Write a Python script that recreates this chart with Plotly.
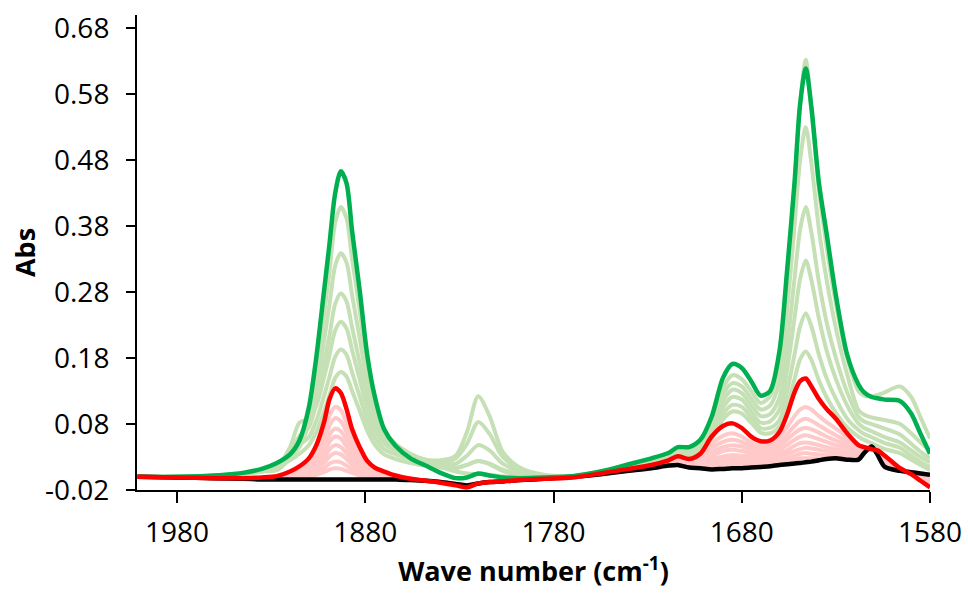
import plotly.graph_objects as go

# Wave numbers (cm-1), shared by all spectra (descending)
wavenumber = [2001, 1980, 1960, 1945, 1935, 1927,
              1920, 1915, 1910, 1906, 1902, 1899, 1896, 1893,
              1890, 1887, 1883, 1879, 1875, 1870, 1864,
              1856, 1848, 1840, 1832, 1826, 1820, 1814, 1807, 1798,
              1785, 1770, 1755, 1740, 1728, 1719, 1714, 1708, 1702,
              1696, 1690, 1685, 1680, 1675, 1670, 1665, 1660,
              1656, 1652, 1649, 1646, 1643, 1639, 1635, 1630,
              1624, 1618, 1615, 1611, 1608, 1604, 1596, 1590, 1585, 1580]

abs_black = [0.000, -0.001, -0.002, -0.003, -0.004, -0.004,
             -0.004, -0.004, -0.004, -0.004, -0.004, -0.004, -0.004, -0.004,
             -0.004, -0.004, -0.004, -0.004, -0.004, -0.004, -0.004,
             -0.005, -0.006, -0.008, -0.011, -0.013, -0.010, -0.008, -0.007, -0.005,
             -0.003, 0.000, 0.004, 0.009, 0.013, 0.017, 0.018, 0.014, 0.013,
             0.011, 0.012, 0.013, 0.013, 0.014, 0.015, 0.016, 0.018,
             0.019, 0.020, 0.021, 0.022, 0.023, 0.025, 0.027, 0.028,
             0.026, 0.026, 0.036, 0.046, 0.034, 0.015, 0.009, 0.007, 0.005, 0.003]

abs_red = [0.000, -0.001, -0.002, -0.002, -0.001, 0.001,
           0.008, 0.016, 0.028, 0.048, 0.082, 0.118, 0.134, 0.127,
           0.103, 0.072, 0.045, 0.024, 0.014, 0.008, 0.002,
           -0.003, -0.006, -0.009, -0.013, -0.016, -0.010, -0.008, -0.007, -0.005,
           -0.003, -0.001, 0.005, 0.012, 0.018, 0.025, 0.031, 0.027, 0.035,
           0.061, 0.077, 0.081, 0.074, 0.061, 0.054, 0.055, 0.068,
           0.094, 0.128, 0.145, 0.149, 0.137, 0.118, 0.103, 0.088,
           0.066, 0.048, 0.045, 0.042, 0.040, 0.032, 0.013, 0.004, -0.006, -0.016]

abs_green = [0.000, 0.000, 0.002, 0.006, 0.012, 0.021,
             0.034, 0.055, 0.105, 0.182, 0.280, 0.354, 0.430, 0.463,
             0.445, 0.372, 0.283, 0.185, 0.122, 0.072, 0.047,
             0.028, 0.017, 0.006, -0.002, -0.001, 0.005, 0.002, -0.001, -0.002,
             -0.001, 0.001, 0.008, 0.019, 0.028, 0.036, 0.045, 0.045, 0.056,
             0.091, 0.150, 0.171, 0.165, 0.145, 0.123, 0.130, 0.190,
             0.310, 0.445, 0.565, 0.619, 0.560, 0.445, 0.370, 0.275,
             0.185, 0.140, 0.128, 0.121, 0.119, 0.117, 0.115, 0.096, 0.065, 0.035]

# intermediate spectra (light green)
lg_1 = [0.000, 0.000, 0.002, 0.005, 0.010, 0.018,
        0.030, 0.048, 0.092, 0.160, 0.245, 0.312, 0.385, 0.409,
        0.392, 0.330, 0.252, 0.168, 0.112, 0.070, 0.050,
        0.035, 0.025, 0.015, 0.008, 0.005, 0.004, 0.003, 0.001, 0.000,
        0.000, 0.001, 0.008, 0.018, 0.027, 0.034, 0.042, 0.043, 0.053,
        0.085, 0.135, 0.154, 0.148, 0.130, 0.112, 0.122, 0.175,
        0.300, 0.440, 0.565, 0.632, 0.555, 0.435, 0.350, 0.262,
        0.180, 0.130, 0.123, 0.122, 0.124, 0.128, 0.137, 0.121, 0.090, 0.058]
lg_2 = [0.000, 0.000, 0.002, 0.005, 0.010, 0.018,
        0.030, 0.045, 0.080, 0.135, 0.205, 0.262, 0.320, 0.339,
        0.325, 0.275, 0.210, 0.142, 0.096, 0.062, 0.046,
        0.033, 0.024, 0.016, 0.014, 0.018, 0.024, 0.019, 0.009, 0.003,
        0.000, 0.001, 0.007, 0.017, 0.026, 0.033, 0.040, 0.041, 0.050,
        0.080, 0.125, 0.142, 0.137, 0.119, 0.102, 0.108, 0.145,
        0.250, 0.380, 0.480, 0.530, 0.475, 0.375, 0.300, 0.225,
        0.155, 0.101, 0.094, 0.090, 0.088, 0.086, 0.080, 0.066, 0.052, 0.040]
lg_3 = [0.000, 0.000, 0.002, 0.006, 0.010, 0.012,
        0.035, 0.062, 0.075, 0.112, 0.170, 0.215, 0.262, 0.278,
        0.266, 0.226, 0.173, 0.118, 0.082, 0.055, 0.042,
        0.032, 0.026, 0.022, 0.028, 0.050, 0.083, 0.065, 0.030, 0.012,
        0.002, 0.001, 0.007, 0.016, 0.025, 0.032, 0.039, 0.039, 0.047,
        0.074, 0.115, 0.132, 0.127, 0.109, 0.092, 0.095, 0.120,
        0.195, 0.300, 0.375, 0.409, 0.370, 0.295, 0.235, 0.180,
        0.128, 0.091, 0.084, 0.080, 0.077, 0.073, 0.064, 0.050, 0.038, 0.028]
lg_4 = [0.000, 0.000, 0.002, 0.005, 0.009, 0.014,
        0.045, 0.082, 0.088, 0.108, 0.150, 0.185, 0.222, 0.235,
        0.225, 0.192, 0.148, 0.103, 0.072, 0.050, 0.040,
        0.031, 0.026, 0.025, 0.032, 0.068, 0.122, 0.092, 0.038, 0.014,
        0.003, 0.001, 0.006, 0.015, 0.024, 0.031, 0.037, 0.037, 0.044,
        0.068, 0.105, 0.121, 0.117, 0.099, 0.082, 0.084, 0.102,
        0.160, 0.240, 0.300, 0.328, 0.298, 0.240, 0.192, 0.148,
        0.108, 0.081, 0.074, 0.069, 0.065, 0.060, 0.052, 0.040, 0.030, 0.022]
lg_5 = [0.000, 0.000, 0.002, 0.005, 0.008, 0.010,
        0.028, 0.048, 0.060, 0.085, 0.122, 0.152, 0.182, 0.193,
        0.185, 0.158, 0.122, 0.085, 0.060, 0.042, 0.034,
        0.027, 0.022, 0.019, 0.020, 0.032, 0.048, 0.040, 0.020, 0.009,
        0.002, 0.001, 0.006, 0.014, 0.023, 0.030, 0.035, 0.035, 0.041,
        0.062, 0.095, 0.109, 0.106, 0.090, 0.074, 0.074, 0.086,
        0.128, 0.185, 0.228, 0.248, 0.228, 0.185, 0.150, 0.118,
        0.088, 0.071, 0.065, 0.060, 0.056, 0.051, 0.044, 0.032, 0.022, 0.015]
lg_6 = [0.000, 0.000, 0.001, 0.004, 0.008, 0.015,
        0.025, 0.035, 0.048, 0.068, 0.098, 0.124, 0.150, 0.159,
        0.152, 0.130, 0.100, 0.070, 0.049, 0.034, 0.027,
        0.021, 0.017, 0.014, 0.013, 0.018, 0.024, 0.020, 0.011, 0.005,
        0.001, 0.000, 0.006, 0.014, 0.022, 0.029, 0.034, 0.033, 0.039,
        0.058, 0.087, 0.099, 0.096, 0.082, 0.067, 0.066, 0.076,
        0.105, 0.148, 0.178, 0.190, 0.177, 0.146, 0.121, 0.097,
        0.075, 0.061, 0.056, 0.051, 0.047, 0.042, 0.036, 0.026, 0.018, 0.010]

# early spectra (pink)
pk_1 = [0.000, -0.001, -0.002, -0.002, -0.003, -0.002,
        0.004, 0.010, 0.020, 0.036, 0.064, 0.093, 0.106, 0.101,
        0.081, 0.056, 0.034, 0.017, 0.008, 0.004, -0.001,
        -0.003, -0.006, -0.009, -0.012, -0.015, -0.010, -0.008, -0.007, -0.005,
        -0.003, -0.001, 0.005, 0.012, 0.017, 0.024, 0.029, 0.026, 0.033,
        0.050, 0.062, 0.066, 0.061, 0.052, 0.047, 0.050, 0.060,
        0.075, 0.092, 0.102, 0.106, 0.102, 0.092, 0.083, 0.073,
        0.060, 0.047, 0.044, 0.042, 0.040, 0.031, 0.013, 0.004, -0.005, -0.013]
pk_2 = [0.000, -0.001, -0.002, -0.002, -0.003, -0.002,
        0.003, 0.008, 0.016, 0.030, 0.053, 0.078, 0.089, 0.084,
        0.068, 0.047, 0.028, 0.014, 0.006, 0.003, -0.001,
        -0.003, -0.006, -0.008, -0.012, -0.014, -0.010, -0.008, -0.007, -0.005,
        -0.003, -0.001, 0.005, 0.011, 0.017, 0.023, 0.028, 0.025, 0.031,
        0.044, 0.053, 0.056, 0.053, 0.046, 0.042, 0.045, 0.052,
        0.064, 0.077, 0.085, 0.088, 0.085, 0.078, 0.071, 0.063,
        0.054, 0.045, 0.043, 0.042, 0.040, 0.031, 0.013, 0.005, -0.004, -0.011]
pk_3 = [0.000, -0.001, -0.002, -0.002, -0.003, -0.002,
        0.002, 0.006, 0.013, 0.024, 0.043, 0.064, 0.073, 0.069,
        0.056, 0.038, 0.023, 0.011, 0.005, 0.002, -0.002,
        -0.003, -0.006, -0.008, -0.012, -0.014, -0.010, -0.008, -0.007, -0.005,
        -0.003, -0.001, 0.005, 0.011, 0.016, 0.022, 0.026, 0.023, 0.028,
        0.038, 0.045, 0.048, 0.046, 0.041, 0.038, 0.040, 0.046,
        0.056, 0.066, 0.072, 0.074, 0.072, 0.067, 0.061, 0.055,
        0.049, 0.043, 0.042, 0.041, 0.039, 0.030, 0.013, 0.005, -0.003, -0.009]
pk_4 = [0.000, -0.001, -0.002, -0.002, -0.003, -0.002,
        0.001, 0.005, 0.010, 0.020, 0.036, 0.053, 0.061, 0.058,
        0.046, 0.032, 0.019, 0.009, 0.003, 0.001, -0.002,
        -0.003, -0.006, -0.008, -0.012, -0.014, -0.010, -0.008, -0.007, -0.005,
        -0.003, -0.001, 0.004, 0.011, 0.016, 0.021, 0.025, 0.021, 0.025,
        0.032, 0.039, 0.041, 0.039, 0.036, 0.034, 0.035, 0.040,
        0.048, 0.056, 0.061, 0.063, 0.061, 0.057, 0.053, 0.048,
        0.045, 0.041, 0.041, 0.041, 0.039, 0.029, 0.012, 0.005, -0.002, -0.007]
pk_5 = [0.000, -0.001, -0.002, -0.002, -0.003, -0.003,
        0.000, 0.003, 0.008, 0.015, 0.028, 0.042, 0.048, 0.045,
        0.036, 0.025, 0.014, 0.006, 0.002, 0.000, -0.002,
        -0.003, -0.006, -0.008, -0.011, -0.013, -0.010, -0.008, -0.007, -0.005,
        -0.003, 0.000, 0.004, 0.010, 0.015, 0.020, 0.024, 0.020, 0.022,
        0.027, 0.031, 0.033, 0.032, 0.031, 0.030, 0.031, 0.034,
        0.040, 0.047, 0.051, 0.052, 0.051, 0.048, 0.045, 0.042,
        0.040, 0.039, 0.040, 0.041, 0.038, 0.028, 0.012, 0.006, -0.001, -0.005]
pk_6 = [0.000, -0.001, -0.002, -0.002, -0.003, -0.003,
        0.000, 0.002, 0.005, 0.011, 0.021, 0.031, 0.036, 0.034,
        0.027, 0.018, 0.010, 0.004, 0.001, -0.001, -0.002,
        -0.003, -0.006, -0.008, -0.011, -0.013, -0.010, -0.008, -0.007, -0.005,
        -0.003, 0.000, 0.004, 0.010, 0.014, 0.019, 0.022, 0.018, 0.019,
        0.022, 0.026, 0.028, 0.028, 0.027, 0.026, 0.027, 0.029,
        0.034, 0.039, 0.042, 0.044, 0.043, 0.041, 0.039, 0.036,
        0.036, 0.037, 0.039, 0.041, 0.037, 0.026, 0.011, 0.006, 0.000, -0.003]
pk_7 = [0.000, -0.001, -0.002, -0.002, -0.003, -0.003,
        -0.001, 0.000, 0.002, 0.006, 0.013, 0.020, 0.023, 0.022,
        0.017, 0.011, 0.006, 0.002, 0.000, -0.001, -0.002,
        -0.003, -0.006, -0.008, -0.011, -0.013, -0.010, -0.008, -0.007, -0.005,
        -0.003, 0.000, 0.004, 0.010, 0.014, 0.018, 0.020, 0.016, 0.017,
        0.018, 0.021, 0.023, 0.023, 0.023, 0.022, 0.023, 0.025,
        0.028, 0.032, 0.035, 0.036, 0.035, 0.034, 0.033, 0.031,
        0.032, 0.034, 0.038, 0.042, 0.036, 0.024, 0.011, 0.006, 0.001, -0.001]
pk_8 = [0.000, -0.001, -0.002, -0.002, -0.003, -0.003,
        -0.002, -0.001, 0.000, 0.003, 0.007, 0.011, 0.013, 0.012,
        0.009, 0.006, 0.002, 0.000, -0.001, -0.002, -0.003,
        -0.004, -0.006, -0.008, -0.011, -0.013, -0.010, -0.008, -0.007, -0.005,
        -0.003, 0.000, 0.004, 0.009, 0.013, 0.017, 0.019, 0.015, 0.014,
        0.014, 0.016, 0.018, 0.018, 0.018, 0.018, 0.019, 0.021,
        0.023, 0.026, 0.028, 0.028, 0.028, 0.028, 0.028, 0.027,
        0.029, 0.031, 0.037, 0.043, 0.036, 0.021, 0.010, 0.006, 0.002, 0.001]

x_ticks = [1980, 1880, 1780, 1680, 1580]
y_ticks = [-0.02, 0.08, 0.18, 0.28, 0.38, 0.48, 0.58, 0.68]

PINK = "#FFC9C9"
LGREEN = "#C5E0B4"
FONT = "Open Sans"

fig = go.Figure()


def add(y, color, width):
    fig.add_trace(go.Scatter(
        x=wavenumber, y=y, mode="lines",
        line=dict(color=color, width=width, shape="spline", smoothing=0.8),
        hoverinfo="skip", showlegend=False))


for s in [pk_8, pk_7, pk_6, pk_5, pk_4, pk_3, pk_2, pk_1]:
    add(s, PINK, 4)
for s in [lg_6, lg_5, lg_4, lg_3, lg_2, lg_1]:
    add(s, LGREEN, 4)
add(abs_black, "#000000", 4.5)
add(abs_green, "#00B050", 4.5)
add(abs_red, "#FF0000", 4.5)

fig.update_layout(
    width=968, height=597,
    margin=dict(l=137, r=38, t=15, b=107),
    paper_bgcolor="white", plot_bgcolor="white",
    font=dict(family=FONT, color="black", size=28),
)
fig.update_xaxes(
    range=[2001.3, 1580], autorange=False, automargin=False,
    tickmode="array", tickvals=x_ticks, ticktext=[str(v) for v in x_ticks],
    showline=True, linecolor="black", linewidth=2,
    ticks="outside", ticklen=11, tickwidth=2, tickcolor="black",
    showgrid=False, zeroline=False,
    tickfont=dict(family=FONT, size=28), ticklabelstandoff=5,
    title=dict(text="<b>Wave number (cm<sup>-1</sup>)</b>",
               font=dict(family=FONT, size=27), standoff=13),
)
fig.update_yaxes(
    range=[-0.02, 0.70], autorange=False, automargin=False,
    tickmode="array", tickvals=y_ticks, ticktext=[f"{v:.2f}" for v in y_ticks],
    showline=True, linecolor="black", linewidth=2,
    ticks="outside", ticklen=9, tickwidth=2, tickcolor="black",
    showgrid=False, zeroline=False,
    tickfont=dict(family=FONT, size=28), ticklabelstandoff=11,
    title=dict(text="<b>Abs</b>", font=dict(family=FONT, size=27), standoff=2),
)

fig.write_html("out.html")
